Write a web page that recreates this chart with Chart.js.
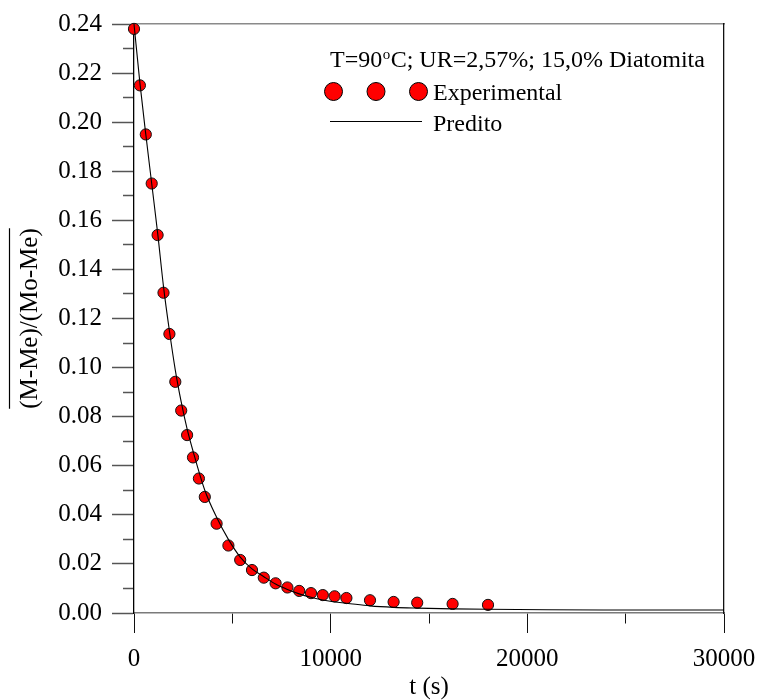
<!DOCTYPE html>
<html>
<head>
<meta charset="utf-8">
<script src="https://cdn.jsdelivr.net/npm/chart.js@4.4.1/dist/chart.umd.min.js"></script>
<style>
  html, body { margin: 0; padding: 0; background: #fff; }
  #c { display: block; }
</style>
</head>
<body>
<canvas id="c" width="758" height="700"></canvas>
<script>
// Drying time (s) and dimensionless moisture ratio, measured points
const timeS = [0, 300, 600, 900, 1200, 1500, 1800, 2100, 2400, 2700, 3000, 3300, 3600,
  4200, 4800, 5400, 6000, 6600, 7200, 7800, 8400, 9000, 9600, 10200, 10800,
  12000, 13200, 14400, 16200, 18000];
const ratioExp = [0.238, 0.215, 0.195, 0.175, 0.154, 0.1305, 0.1137, 0.0942, 0.0825, 0.0725,
  0.0634, 0.0548, 0.0473, 0.0364, 0.0275, 0.0216, 0.0175, 0.0144, 0.0121, 0.0104,
  0.0090, 0.0081, 0.0073, 0.0068, 0.0061, 0.0052, 0.0045, 0.0042, 0.0037, 0.0033];

// Model curve (predicted ratio)
const curveT = [0, 300, 600, 900, 1200, 1500, 1800, 2100, 2400, 2700, 3000, 3600, 4200,
  4800, 5400, 6000, 6600, 7200, 7800, 8400, 9000, 9600, 10200, 10800, 12000,
  13200, 14400, 16200, 18000, 21000, 24000, 27000, 30000];
const curveRatio = [0.240, 0.216, 0.195, 0.175, 0.155, 0.133, 0.115, 0.099, 0.086, 0.075,
  0.066, 0.050, 0.039, 0.030, 0.0228, 0.018, 0.0148, 0.0118, 0.0096, 0.0078, 0.0064,
  0.0053, 0.0045, 0.0040, 0.0029, 0.0023, 0.0020, 0.0017, 0.0015, 0.0013, 0.0012,
  0.0012, 0.0012];

// Axis ticks
const xMajorTicks = [0, 10000, 20000, 30000];
const yMajorTicks = ['0.00', '0.02', '0.04', '0.06', '0.08', '0.10', '0.12',
  '0.14', '0.16', '0.18', '0.20', '0.22', '0.24'];

const legendTitle = ['T=90', 'o', 'C; UR=2,57%; 15,0% Diatomita'];
const legendLabels = ['Experimental', 'Predito'];
const yTitle = '(M-Me)/(Mo-Me)';
const xTitle = 't (s)';

const SERIF = "'Liberation Serif', 'Times New Roman', serif";
const FS = 25;   // axis text
const LFS = 24;  // legend text

const expPoints = timeS.map((t, i) => ({ x: t, y: ratioExp[i] }));
const curvePoints = curveT.map((t, i) => ({ x: t, y: curveRatio[i] }));

const isYMajor = v => yMajorTicks.includes(v.toFixed(2));
const isXMajor = v => xMajorTicks.includes(Math.round(v));

// Legend box and overline on the y title
const decorations = {
  id: 'decorations',
  afterDraw(chart) {
    const ctx = chart.ctx;
    ctx.save();

    // overline spanning the rotated y-axis title
    ctx.font = FS + 'px ' + SERIF;
    const w = ctx.measureText(yTitle).width;
    const cy = (chart.chartArea.top + chart.chartArea.bottom) / 2;
    ctx.strokeStyle = '#000';
    ctx.lineWidth = 1.2;
    ctx.beginPath();
    ctx.moveTo(9.5, cy - w / 2);
    ctx.lineTo(9.5, cy + w / 2);
    ctx.stroke();

    // legend title with superscript
    ctx.fillStyle = '#000';
    ctx.textBaseline = 'alphabetic';
    ctx.textAlign = 'left';
    let x = 330, base = 67;
    ctx.font = LFS + 'px ' + SERIF;
    ctx.fillText(legendTitle[0], x, base);
    x += ctx.measureText(legendTitle[0]).width;
    ctx.font = '15px ' + SERIF;
    ctx.fillText(legendTitle[1], x + 0.5, base - 8);
    x += ctx.measureText(legendTitle[1]).width + 1;
    ctx.font = LFS + 'px ' + SERIF;
    ctx.fillText(legendTitle[2], x, base);

    // experimental markers
    ctx.fillStyle = '#ff0000';
    ctx.strokeStyle = '#000';
    ctx.lineWidth = 1;
    [333.5, 376, 418.5].forEach(cx => {
      ctx.beginPath();
      ctx.arc(cx, 91.5, 9, 0, Math.PI * 2);
      ctx.fill();
      ctx.stroke();
    });
    ctx.fillStyle = '#000';
    ctx.fillText(legendLabels[0], 433, 99.5);

    // predicted line sample
    ctx.beginPath();
    ctx.moveTo(330, 121.5);
    ctx.lineTo(422, 121.5);
    ctx.stroke();
    ctx.fillText(legendLabels[1], 433, 131);
    ctx.restore();
  }
};

new Chart(document.getElementById('c'), {
  type: 'scatter',
  data: {
    datasets: [
      {
        label: legendLabels[1],
        data: curvePoints,
        showLine: true,
        borderColor: '#000',
        borderWidth: 1.1,
        pointRadius: 0,
        cubicInterpolationMode: 'monotone',
        fill: false,
        clip: false,
        order: 0
      },
      {
        label: legendLabels[0],
        data: expPoints,
        showLine: false,
        pointRadius: 5.6,
        pointBackgroundColor: '#ff0000',
        pointBorderColor: '#111',
        pointBorderWidth: 1,
        clip: false,
        order: 1
      }
    ]
  },
  options: {
    responsive: false,
    animation: false,
    devicePixelRatio: 1,
    layout: { padding: 0 },
    plugins: { legend: { display: false }, tooltip: { enabled: false } },
    scales: {
      x: {
        type: 'linear',
        position: 'bottom',
        min: 0, max: 30000,
        afterFit: s => { s.height = 87; s.paddingLeft = 0; s.paddingRight = 0; },
        ticks: {
          stepSize: 5000,
          maxTicksLimit: 100,
          autoSkip: false,
          maxRotation: 0,
          padding: 11,
          color: '#000',
          font: { family: SERIF, size: FS },
          callback: v => isXMajor(v) ? String(v) : ''
        },
        grid: {
          drawOnChartArea: false,
          tickLength: 20,
          tickColor: '#111',
          tickWidth: 1,
          tickBorderDash: c => (c.tick && !isXMajor(c.tick.value)) ? [10, 20] : []
        },
        border: { display: true, color: '#7a7a7a', width: 1.5 },
        title: {
          display: true, text: xTitle, color: '#000',
          font: { family: SERIF, size: FS, lineHeight: 1.0 },
          padding: { top: 0, bottom: 0 }
        }
      },
      x2: {
        type: 'linear',
        position: 'top',
        min: 0, max: 30000,
        afterFit: s => { s.height = 24; s.paddingLeft = 0; s.paddingRight = 0; },
        ticks: { display: false },
        grid: { drawOnChartArea: false, drawTicks: false },
        border: { display: true, color: '#8a8a8a', width: 1.5 }
      },
      y: {
        type: 'linear',
        position: 'left',
        min: 0, max: 0.24,
        afterFit: s => { s.width = 134; s.paddingTop = 0; s.paddingBottom = 0; },
        ticks: {
          stepSize: 0.01,
          maxTicksLimit: 100,
          autoSkip: false,
          padding: 10,
          color: '#000',
          font: { family: SERIF, size: FS },
          callback: v => isYMajor(v) ? v.toFixed(2) : ''
        },
        grid: {
          drawOnChartArea: false,
          tickLength: 22,
          tickColor: '#555',
          tickWidth: 1.5,
          tickBorderDash: c => (c.tick && !isYMajor(c.tick.value)) ? [0, 11, 11, 0] : []
        },
        border: { display: true, color: '#000', width: 1.3 },
        title: {
          display: true, text: yTitle, color: '#000',
          font: { family: SERIF, size: FS, lineHeight: 1.2 },
          padding: { top: 15, bottom: 0 }
        }
      },
      y2: {
        type: 'linear',
        position: 'right',
        min: 0, max: 0.24,
        afterFit: s => { s.width = 34; s.paddingTop = 0; s.paddingBottom = 0; },
        ticks: { display: false },
        grid: { drawOnChartArea: false, drawTicks: false },
        border: { display: true, color: '#111', width: 1.3 }
      }
    }
  },
  plugins: [decorations]
});
</script>
</body>
</html>
